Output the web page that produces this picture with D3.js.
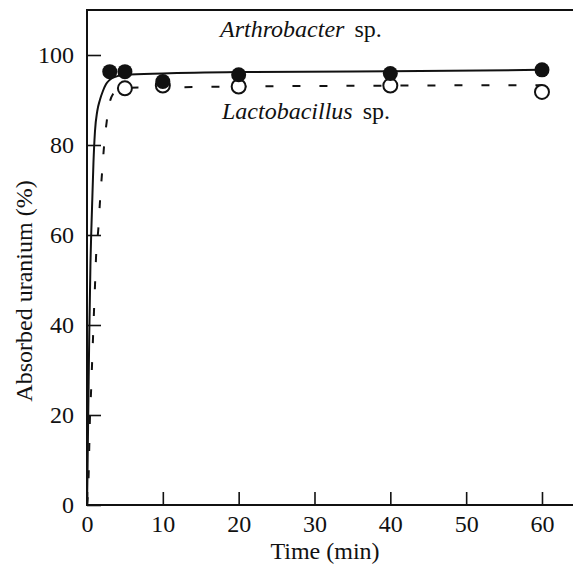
<!DOCTYPE html>
<html>
<head>
<meta charset="utf-8">
<script src="https://cdn.jsdelivr.net/npm/d3@7"></script>
<style>
  body { margin: 0; background: #fff; }
  svg text { font-family: "Times New Roman", "Liberation Serif", Times, serif; fill: #111; }
</style>
</head>
<body>
<div id="chart"></div>
<script>
// measured points, time in min, uptake in %
const arthroTimes = [3, 5, 10, 20, 40, 60]
const arthroValues = [96.3, 96.3, 94.1, 95.6, 95.9, 96.7]
const lactoTimes = [5, 10, 20, 40, 60]
const lactoValues = [92.6, 93.2, 93.0, 93.2, 91.8]

// fitted curves
const arthroCurveT = [0, 0.05, 0.1, 0.17, 0.3, 0.45, 0.7, 0.85, 1.05, 1.35, 1.7, 2.1, 2.5, 3, 4, 5, 10, 20, 40, 60]
const arthroCurveV = [0, 5, 12, 21, 38, 53, 68, 76, 83, 87.5, 90, 92, 93.5, 94.5, 95.3, 95.6, 95.9, 96.2, 96.4, 96.7]
const lactoCurveT = [0, 0.22, 0.3, 0.4, 0.53, 0.66, 0.79, 0.92, 1.06, 1.19, 1.5, 1.71, 1.98, 2.24, 2.6, 3, 3.5, 4.2, 5, 10, 20, 40, 60]
const lactoCurveV = [0, 7, 13, 20, 25, 31, 37, 43, 49, 55, 61.5, 67.4, 73.7, 79.6, 85.2, 89.5, 91.5, 92.4, 92.7, 92.8, 93, 93.2, 93.3]

const xTicks = [0, 10, 20, 30, 40, 50, 60]
const yTicks = [0, 20, 40, 60, 80, 100]

const serif = "'Times New Roman', 'Liberation Serif', Times, serif"

const dimensions = {
  width: 573,
  height: 564,
  margin: { top: 10, right: 0, bottom: 59, left: 87 },
}
dimensions.boundedWidth = dimensions.width - dimensions.margin.left - dimensions.margin.right
dimensions.boundedHeight = dimensions.height - dimensions.margin.top - dimensions.margin.bottom

const wrapper = d3.select("#chart")
  .append("svg")
    .attr("width", dimensions.width)
    .attr("height", dimensions.height)

const bounds = wrapper.append("g")
  .attr("transform", `translate(${dimensions.margin.left},${dimensions.margin.top})`)

const xScale = d3.scaleLinear()
  .domain([0, 64.09])
  .range([0, dimensions.boundedWidth])
const yScale = d3.scaleLinear()
  .domain([0, 110])
  .range([dimensions.boundedHeight, 0])

// frame (right side runs off the page)
bounds.append("rect")
  .attr("x", 0)
  .attr("y", 0)
  .attr("width", dimensions.boundedWidth + 20)
  .attr("height", dimensions.boundedHeight)
  .attr("fill", "none")
  .attr("stroke", "#111")
  .attr("stroke-width", 2)

const xAxis = bounds.append("g")
  .attr("transform", `translate(0,${dimensions.boundedHeight})`)
  .call(d3.axisBottom(xScale).tickValues(xTicks).tickSizeInner(-13).tickSizeOuter(0).tickPadding(10))
const yAxis = bounds.append("g")
  .call(d3.axisLeft(yScale).tickValues(yTicks).tickSizeInner(-14).tickSizeOuter(0).tickPadding(13))

;[xAxis, yAxis].forEach(ax => {
  ax.attr("font-family", null).attr("font-size", null)
  ax.select(".domain").remove()
  ax.selectAll(".tick line").attr("stroke", "#111").attr("stroke-width", 1.6)
  ax.selectAll(".tick text")
    .attr("fill", "#111")
    .style("font-family", serif)
    .style("font-size", "24px")
})

const line = d3.line()
  .x(d => xScale(d[0]))
  .y(d => yScale(d[1]))
  .curve(d3.curveMonotoneX)

bounds.append("path")
  .datum(lactoCurveT.map((t, i) => [t, lactoCurveV[i]]))
  .attr("fill", "none")
  .attr("stroke", "#111")
  .attr("stroke-width", 2)
  .attr("stroke-dasharray", "8 19")
  .attr("d", line)

bounds.append("path")
  .datum(arthroCurveT.map((t, i) => [t, arthroCurveV[i]]))
  .attr("fill", "none")
  .attr("stroke", "#111")
  .attr("stroke-width", 2)
  .attr("d", line)

bounds.selectAll(".open")
  .data(lactoTimes.map((t, i) => [t, lactoValues[i]]))
  .join("circle")
    .attr("class", "open")
    .attr("cx", d => xScale(d[0]))
    .attr("cy", d => yScale(d[1]))
    .attr("r", 7)
    .attr("fill", "#fff")
    .attr("stroke", "#111")
    .attr("stroke-width", 2)

bounds.selectAll(".filled")
  .data(arthroTimes.map((t, i) => [t, arthroValues[i]]))
  .join("circle")
    .attr("class", "filled")
    .attr("cx", d => xScale(d[0]))
    .attr("cy", d => yScale(d[1]))
    .attr("r", 7.5)
    .attr("fill", "#111")

// series labels
const seriesLabel = (name, x, y) => {
  const t = wrapper.append("text")
    .attr("x", x)
    .attr("y", y)
    .style("font-family", serif)
    .style("font-size", "24px")
  t.append("tspan").style("font-style", "italic").text(name)
  t.append("tspan").attr("dx", 10).text("sp.")
}
seriesLabel("Arthrobacter", 220, 37)
seriesLabel("Lactobacillus", 222, 119)

wrapper.append("text")
  .attr("x", 325)
  .attr("y", 559)
  .attr("text-anchor", "middle")
  .style("font-family", serif)
  .style("font-size", "24px")
  .text("Time (min)")

wrapper.append("text")
  .attr("transform", "translate(32,291) rotate(-90)")
  .attr("text-anchor", "middle")
  .style("font-family", serif)
  .style("font-size", "24px")
  .text("Absorbed uranium (%)")
</script>
</body>
</html>
